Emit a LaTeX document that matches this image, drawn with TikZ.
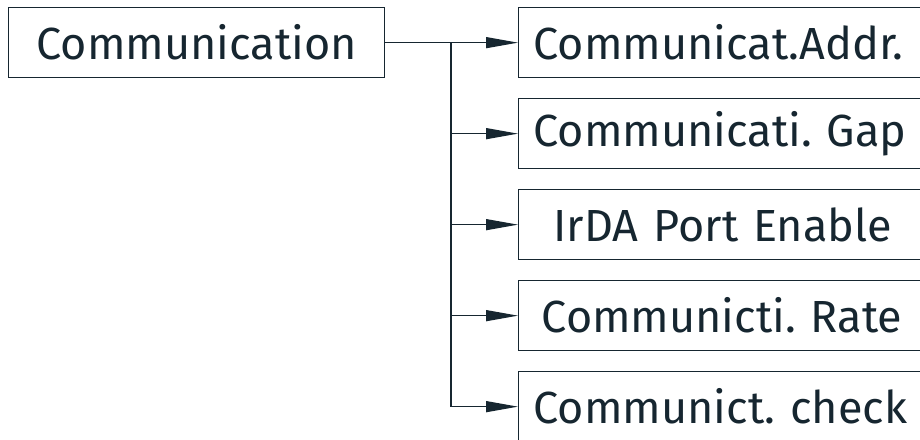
\documentclass[tikz,border=0pt]{standalone}
\usepackage{fontspec}
\setmainfont{Fira Sans}
\usetikzlibrary{arrows.meta}
\definecolor{ink}{RGB}{22,38,48}
\frenchspacing

\begin{document}
\begin{tikzpicture}[x=1pt,y=-1pt,
  box/.style={draw=ink,line width=1.3pt,text=ink,minimum height=70pt,inner sep=0pt,font=\fontsize{45}{50}\selectfont},
  item/.style={box,anchor=north west,minimum width=440pt,text width=440pt,align=left},
  link/.style={draw=ink,line width=1.3pt,-{Triangle[length=32pt,width=11pt]}}]
  \clip (0,0) rectangle (920,439);
  % main box
  \node[box,anchor=north west,minimum width=376pt] (comm) at (8,7) {Communication};
  % sub boxes
  \node[item] (addr) at (518,7) {\hspace{15pt}Communicat.Addr.};
  \node[item] (gap) at (518,98) {\hspace{15pt}Communicati. Gap};
  \node[item] (irda) at (518,189) {\hspace{35pt}IrDA Port Enable};
  \node[item] (rate) at (518,280) {\hspace{23pt}Communicti. Rate};
  \node[item] (check) at (518,371) {\hspace{15pt}Communict. check};
  % connectors
  \coordinate (split) at (451,42);
  \draw[link] (comm.east) -- (addr.west);
  \foreach \n in {gap,irda,rate,check} \draw[link] (split) |- (\n.west);
\end{tikzpicture}
\end{document}
